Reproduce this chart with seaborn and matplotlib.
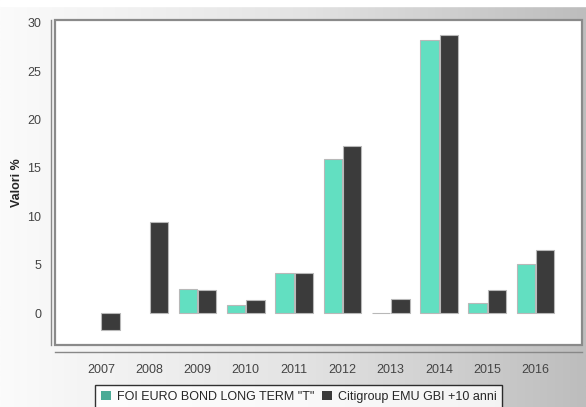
import numpy as np
import pandas as pd
import matplotlib
matplotlib.use("Agg")
import matplotlib.pyplot as plt
from matplotlib.colors import LinearSegmentedColormap
from matplotlib.patches import Rectangle
import seaborn as sns

# data
years = ["2007", "2008", "2009", "2010", "2011", "2012", "2013", "2014", "2015", "2016"]
fund = [np.nan, np.nan, 2.48, 0.86, 4.13, 15.9, 0.05, 28.2, 1.03, 5.09]
index = [-1.72, 9.45, 2.4, 1.37, 4.19, 17.3, 1.48, 28.8, 2.4, 6.53]
series_names = ['FOI EURO BOND LONG TERM "T"', "Citigroup EMU GBI +10 anni"]

df = pd.DataFrame({
    "Anno": years * 2,
    "Valore": fund + index,
    "Serie": [series_names[0]] * len(years) + [series_names[1]] * len(years),
})

sns.set_style("white")
plt.rcParams["font.family"] = ["Liberation Sans", "DejaVu Sans"]

fig = plt.figure(figsize=(5.86, 4.07), dpi=100)

# grey gradient backdrop
bg = fig.add_axes([0, 0, 1, 1], zorder=0)
grad = np.linspace(0, 1, 256).reshape(1, -1)
cmap = LinearSegmentedColormap.from_list("bg", ["#fbfbfb", "#e4e4e4", "#bdbdbd"])
bg.imshow(grad, aspect="auto", cmap=cmap, extent=[0, 1, 0, 1])
bg.axhspan(1 - 6 / 407, 1, color="white")
bg.set_xlim(0, 1)
bg.set_ylim(0, 1)
bg.axis("off")

ax = fig.add_axes([55 / 586, 1 - 345 / 407, 527 / 586, 325 / 407], zorder=1)
ax.set_facecolor("white")

palette = ["#62dfc1", "#3b3b3b"]
sns.barplot(data=df, x="Anno", y="Valore", hue="Serie", palette=palette,
            width=0.8, gap=0.05, edgecolor="#b8b8b8", linewidth=0.8,
            saturation=1, ax=ax, legend=False)

ax.set_xlim(-0.95, 9.96)
ax.set_ylim(-3.3, 30.3)
ax.set_yticks([0, 5, 10, 15, 20, 25, 30])
ax.set_xlabel("")
ax.set_ylabel("Valori %", fontsize=9, fontweight="bold", labelpad=3)

for side in ["top", "right"]:
    ax.spines[side].set_visible(False)
ax.spines["left"].set_position(("outward", 3))
ax.spines["bottom"].set_position(("outward", 5))
for side in ["left", "bottom"]:
    ax.spines[side].set_color("#888888")
    ax.spines[side].set_linewidth(1.0)
ax.add_patch(Rectangle((0, 0), 1, 1, transform=ax.transAxes, fill=False,
                       edgecolor="#8a8a8a", linewidth=1.6, clip_on=False, zorder=5))

ax.tick_params(axis="both", direction="out", length=4, width=0.8, color="#888888",
               labelsize=9, labelcolor="#444444")
ax.tick_params(axis="x", pad=5)
ax.tick_params(axis="y", pad=3)

handles = [Rectangle((0, 0), 1, 1, facecolor=c, edgecolor="none")
           for c in ["#4aab96", "#3b3b3b"]]
leg = fig.legend(handles, series_names, loc="upper left",
                 bbox_to_anchor=(95 / 586, 1 - 385 / 407), ncol=2, fontsize=9,
                 frameon=True, fancybox=False, handlelength=0.8, handleheight=0.8,
                 handletextpad=0.5, columnspacing=0.6, borderpad=0.45,
                 borderaxespad=0)
leg.get_frame().set_edgecolor("black")
leg.get_frame().set_linewidth(1.0)
leg.get_frame().set_facecolor("white")

fig.savefig("out.png", dpi=100)
